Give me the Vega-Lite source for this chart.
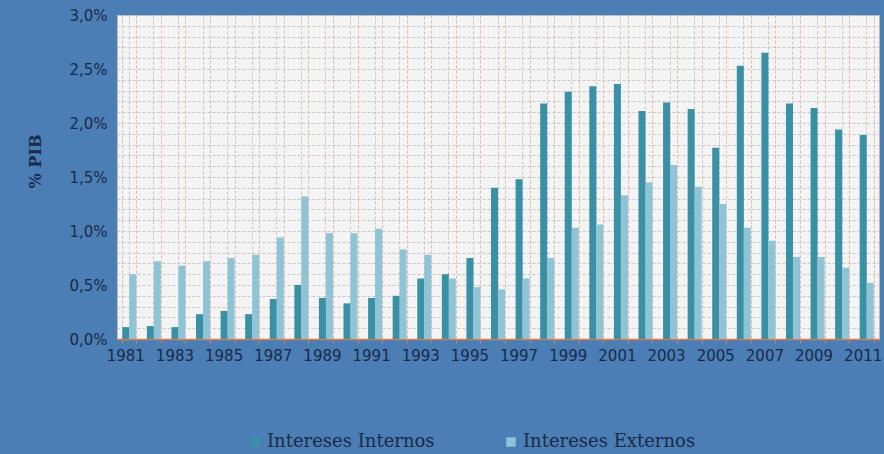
{
  "$schema": "https://vega.github.io/schema/vega-lite/v6.json",
  "width": 762,
  "height": 324,
  "autosize": "none",
  "padding": {"left": 117, "top": 15, "right": 5, "bottom": 115},
  "background": "#4a7eb4",
  "config": {
    "view": {"fill": "#f4f4f4", "stroke": "#b8b8b8", "strokeWidth": 1},
    "axis": {"labelFont": "DejaVu Sans", "labelFontSize": 15, "labelColor": "#1a2a48", "titleColor": "#1a2a48"}
  },
  "data": {"values": [
    {"year": 1981, "serie": "Intereses Internos", "value": 0.0011},
    {"year": 1981, "serie": "Intereses Externos", "value": 0.0060},
    {"year": 1982, "serie": "Intereses Internos", "value": 0.0012},
    {"year": 1982, "serie": "Intereses Externos", "value": 0.0072},
    {"year": 1983, "serie": "Intereses Internos", "value": 0.0011},
    {"year": 1983, "serie": "Intereses Externos", "value": 0.0068},
    {"year": 1984, "serie": "Intereses Internos", "value": 0.0023},
    {"year": 1984, "serie": "Intereses Externos", "value": 0.0072},
    {"year": 1985, "serie": "Intereses Internos", "value": 0.0026},
    {"year": 1985, "serie": "Intereses Externos", "value": 0.0075},
    {"year": 1986, "serie": "Intereses Internos", "value": 0.0023},
    {"year": 1986, "serie": "Intereses Externos", "value": 0.0078},
    {"year": 1987, "serie": "Intereses Internos", "value": 0.0037},
    {"year": 1987, "serie": "Intereses Externos", "value": 0.0094},
    {"year": 1988, "serie": "Intereses Internos", "value": 0.0050},
    {"year": 1988, "serie": "Intereses Externos", "value": 0.0132},
    {"year": 1989, "serie": "Intereses Internos", "value": 0.0038},
    {"year": 1989, "serie": "Intereses Externos", "value": 0.0098},
    {"year": 1990, "serie": "Intereses Internos", "value": 0.0033},
    {"year": 1990, "serie": "Intereses Externos", "value": 0.0098},
    {"year": 1991, "serie": "Intereses Internos", "value": 0.0038},
    {"year": 1991, "serie": "Intereses Externos", "value": 0.0102},
    {"year": 1992, "serie": "Intereses Internos", "value": 0.0040},
    {"year": 1992, "serie": "Intereses Externos", "value": 0.0083},
    {"year": 1993, "serie": "Intereses Internos", "value": 0.0056},
    {"year": 1993, "serie": "Intereses Externos", "value": 0.0078},
    {"year": 1994, "serie": "Intereses Internos", "value": 0.0060},
    {"year": 1994, "serie": "Intereses Externos", "value": 0.0056},
    {"year": 1995, "serie": "Intereses Internos", "value": 0.0075},
    {"year": 1995, "serie": "Intereses Externos", "value": 0.0048},
    {"year": 1996, "serie": "Intereses Internos", "value": 0.0140},
    {"year": 1996, "serie": "Intereses Externos", "value": 0.0046},
    {"year": 1997, "serie": "Intereses Internos", "value": 0.0148},
    {"year": 1997, "serie": "Intereses Externos", "value": 0.0056},
    {"year": 1998, "serie": "Intereses Internos", "value": 0.0218},
    {"year": 1998, "serie": "Intereses Externos", "value": 0.0075},
    {"year": 1999, "serie": "Intereses Internos", "value": 0.0229},
    {"year": 1999, "serie": "Intereses Externos", "value": 0.0103},
    {"year": 2000, "serie": "Intereses Internos", "value": 0.0234},
    {"year": 2000, "serie": "Intereses Externos", "value": 0.0106},
    {"year": 2001, "serie": "Intereses Internos", "value": 0.0236},
    {"year": 2001, "serie": "Intereses Externos", "value": 0.0133},
    {"year": 2002, "serie": "Intereses Internos", "value": 0.0211},
    {"year": 2002, "serie": "Intereses Externos", "value": 0.0145},
    {"year": 2003, "serie": "Intereses Internos", "value": 0.0219},
    {"year": 2003, "serie": "Intereses Externos", "value": 0.0161},
    {"year": 2004, "serie": "Intereses Internos", "value": 0.0213},
    {"year": 2004, "serie": "Intereses Externos", "value": 0.0141},
    {"year": 2005, "serie": "Intereses Internos", "value": 0.0177},
    {"year": 2005, "serie": "Intereses Externos", "value": 0.0125},
    {"year": 2006, "serie": "Intereses Internos", "value": 0.0253},
    {"year": 2006, "serie": "Intereses Externos", "value": 0.0103},
    {"year": 2007, "serie": "Intereses Internos", "value": 0.0265},
    {"year": 2007, "serie": "Intereses Externos", "value": 0.0091},
    {"year": 2008, "serie": "Intereses Internos", "value": 0.0218},
    {"year": 2008, "serie": "Intereses Externos", "value": 0.0076},
    {"year": 2009, "serie": "Intereses Internos", "value": 0.0214},
    {"year": 2009, "serie": "Intereses Externos", "value": 0.0076},
    {"year": 2010, "serie": "Intereses Internos", "value": 0.0194},
    {"year": 2010, "serie": "Intereses Externos", "value": 0.0066},
    {"year": 2011, "serie": "Intereses Internos", "value": 0.0189},
    {"year": 2011, "serie": "Intereses Externos", "value": 0.0052}
  ]},
  "resolve": {"axis": {"x": "independent"}},
  "encoding": {
    "xOffset": {"field": "serie", "type": "nominal", "sort": ["Intereses Internos", "Intereses Externos"]},
    "y": {"field": "value", "type": "quantitative",
      "scale": {"domain": [0, 0.03], "nice": false},
      "axis": {"title": "% PIB", "titleFont": "DejaVu Serif", "titleFontSize": 16, "titleFontWeight": "bold",
        "titlePadding": 25, "titleY": 146, "titleAlign": "center",
        "values": [0, 0.001, 0.002, 0.003, 0.004, 0.005, 0.006, 0.007, 0.008, 0.009, 0.01, 0.011, 0.012, 0.013, 0.014, 0.015, 0.016, 0.017, 0.018, 0.019, 0.02, 0.021, 0.022, 0.023, 0.024, 0.025, 0.026, 0.027, 0.028, 0.029, 0.03],
        "labelExpr": "abs(datum.value * 200 - round(datum.value * 200)) < 0.000001 ? replace(format(datum.value, '.1%'), '.', ',') : ''",
        "labelOverlap": false,
        "labelPadding": 10, "ticks": false, "domain": false,
        "grid": true, "gridColor": "#c6c6c6", "gridDash": [3, 2], "gridWidth": 1}}
  },
  "layer": [
    {
      "mark": {"type": "bar", "opacity": 0},
      "encoding": {
        "x": {"field": "year", "type": "ordinal",
          "scale": {"paddingInner": 0.43, "paddingOuter": 0.215},
          "axis": {"orient": "top", "labels": false, "ticks": false, "domain": false, "title": null,
            "grid": true, "bandPosition": 0.5, "gridColor": "#c6c6c6", "gridDash": [3, 2], "gridWidth": 1}}
      }
    },
    {
      "mark": {"type": "bar"},
      "encoding": {
        "x": {"field": "year", "type": "ordinal",
          "scale": {"paddingInner": 0.43, "paddingOuter": 0.215},
          "axis": {"orient": "bottom", "title": null, "labelAngle": 0, "labelPadding": 5,
            "labelFontSize": 15, "labelOffset": -4,
            "labelExpr": "datum.value % 2 == 1 ? datum.label : ''",
            "grid": true, "bandPosition": 0, "gridColor": "#e3b9a8", "gridDash": [3, 2], "gridWidth": 1,
            "ticks": true, "tickColor": "#e07a4a", "tickSize": 4, "tickBand": "extent",
            "domain": true, "domainColor": "#e07a4a", "domainWidth": 1.5}},
        "color": {"field": "serie", "type": "nominal",
          "scale": {"domain": ["Intereses Internos", "Intereses Externos"], "range": ["#3a91a5", "#8ec4d6"]},
          "legend": {"title": null, "orient": "none", "direction": "horizontal", "legendX": 129, "legendY": 418,
            "symbolType": "square", "symbolSize": 90, "symbolStrokeWidth": 0,
            "labelFont": "DejaVu Serif", "labelFontSize": 18, "labelColor": "#1a2a48", "labelLimit": 300,
            "columnPadding": 67, "symbolOffset": 0, "labelOffset": 3}}
      }
    }
  ]
}
